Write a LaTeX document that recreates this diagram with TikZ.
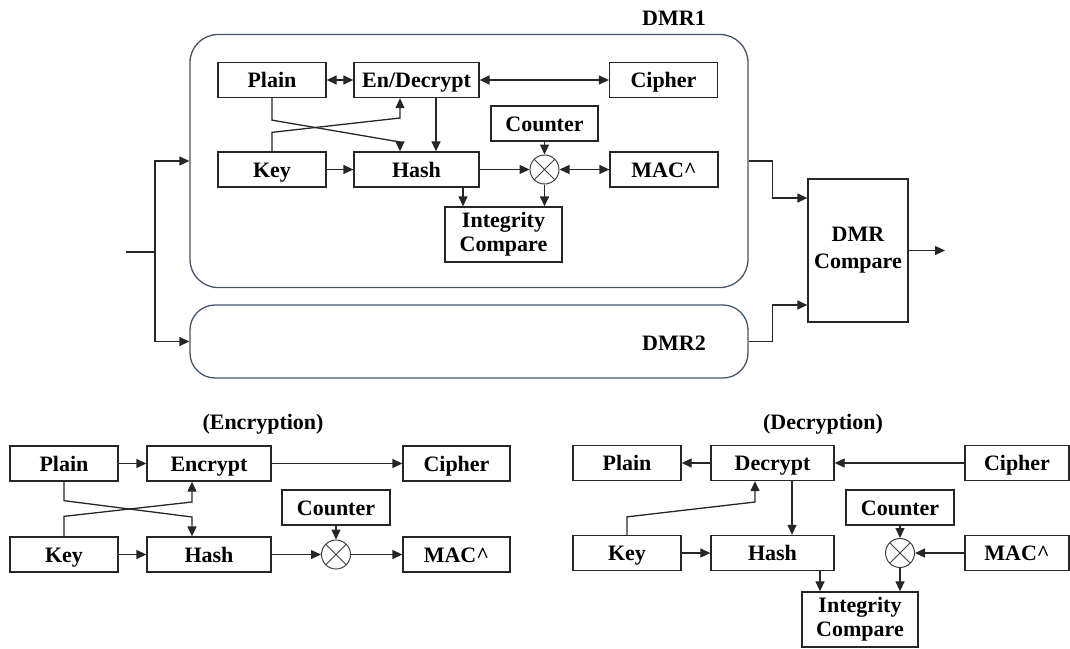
\documentclass[tikz,border=0pt]{standalone}
\usepackage{fontspec}
\setmainfont{Liberation Serif}[BoldFont={Liberation Serif Bold}]
\newfontfamily\boxfont{Liberation Serif Bold}
\usetikzlibrary{arrows.meta,calc}
\definecolor{dmrblue}{RGB}{68,84,106}
\begin{document}
\begin{tikzpicture}[x=1pt,y=-1pt,
  lbl/.style={font=\boxfont\fontsize{22}{24}\selectfont, align=center, inner sep=0pt},
  one/.style={text height=15pt, text depth=0pt},
  blk/.style={lbl, draw=black!85, line width=1.3pt, minimum height=35pt},
  sblk/.style={blk, one, minimum width=108pt},
  wblk/.style={blk, one, minimum width=124pt},
  mix/.style={circle, draw=black!75, line width=1pt, minimum size=29pt, inner sep=0pt,
    path picture={\draw[black!75, line width=1pt]
      ($(path picture bounding box.center)+(45:14.5)$) -- ($(path picture bounding box.center)+(-135:14.5)$)
      ($(path picture bounding box.center)+(135:14.5)$) -- ($(path picture bounding box.center)+(-45:14.5)$);}},
  dmr/.style={draw=dmrblue, line width=1.3pt, inner sep=0pt},
  con/.style={line width=1.3pt, draw=black!85},
  tip/.tip={Triangle[length=10pt,width=9pt]},
  arr/.style={con, -tip},
  darr/.style={con, tip-tip}
]
\useasboundingbox (0,0) rectangle (1070,648);

% ---------- DMR structure ----------
\node[dmr, rounded corners=28pt, minimum width=558pt, minimum height=253pt] (d1) at (469,161) {};
\node[dmr, rounded corners=25pt, minimum width=558pt, minimum height=73pt] (d2) at (469,341.5) {};
\node[lbl, one] (d1l) at (674,18) {DMR1};
\node[lbl, one] (d2l) at (674,343) {DMR2};

\coordinate (in) at (126,252);
\coordinate (sp) at (155,252);
\draw[con] (in) -- (sp);
\draw[arr] (sp) |- (d1.west);
\draw[arr] (sp) |- (d2.west);

\node[blk, minimum width=100pt, minimum height=143pt, font=\boxfont\fontsize{22}{27}\selectfont] (cmp) at (858,250.5) {DMR\\Compare};
\draw[arr] (d1.east) -- ++(24,0) |- ([yshift=52.5pt]cmp.west);
\draw[arr] (d2.east) -- ++(24,0) |- ([yshift=-54.5pt]cmp.west);
\coordinate (out) at (945,250.5);
\draw[arr] (cmp.east) -- (out);

% ---------- DMR1 internals ----------
\node[sblk] (p1) at (272,80) {Plain};
\node[wblk, minimum width=125pt] (e1) at (416.5,80) {En/Decrypt};
\node[sblk] (c1) at (663.5,80) {Cipher};
\node[sblk] (k1) at (272,169.5) {Key};
\node[wblk, minimum width=125pt] (h1) at (416.5,169.5) {Hash};
\node[sblk, minimum width=107pt] (n1) at (544.5,123.5) {Counter};
\node[mix] (x1) at (544.5,169.5) {};
\node[sblk] (m1) at (664,169.5) {MAC\^{}};
\node[blk, minimum width=117pt, minimum height=55pt] (i1) at (503.5,234.5) {Integrity\\Compare};

\draw[darr] (p1.east) -- (e1.west);
\draw[darr] (e1.east) -- (c1.west);
\draw[arr] (p1.south) -- ++(0,22) -- (400,142) -- ([xshift=-16.5pt]h1.north);
\draw[arr] (k1.north) -- ++(0,-19) -- (400,118) -- ([xshift=-16.5pt]e1.south);
\draw[arr] ([xshift=19.5pt]e1.south) -- ([xshift=19.5pt]h1.north);
\draw[arr] (k1.east) -- (h1.west);
\draw[arr] (h1.east) -- (x1.west);
\draw[arr] (n1.south) -- (x1.north);
\draw[darr] (x1.east) -- (m1.west);
\draw[arr] ([xshift=46.5pt]h1.south) -- ([xshift=-40.5pt]i1.north);
\draw[arr] (x1.south) -- ([xshift=41pt]i1.north);

% ---------- Encryption ----------
\node[lbl, one] (enct) at (263,422) {(Encryption)};
\node[sblk] (p2) at (64,463.5) {Plain};
\node[wblk] (e2) at (209,463.5) {Encrypt};
\node[sblk, minimum width=107pt] (c2) at (456.5,463.5) {Cipher};
\node[sblk] (n2) at (336,507.5) {Counter};
\node[sblk] (k2) at (64,554.5) {Key};
\node[wblk] (h2) at (209,554.5) {Hash};
\node[mix] (x2) at (336,554.5) {};
\node[sblk, minimum width=107pt] (m2) at (456.5,554.5) {MAC\^{}};

\draw[arr] (p2.east) -- (e2.west);
\draw[arr] (e2.east) -- (c2.west);
\draw[arr] (p2.south) -- ++(0,19) -- (192,517) -- ([xshift=-17pt]h2.north);
\draw[arr] (k2.north) -- ++(0,-20) -- (192,502) -- ([xshift=-17pt]e2.south);
\draw[arr] (k2.east) -- (h2.west);
\draw[arr] (h2.east) -- (x2.west);
\draw[arr] (n2.south) -- (x2.north);
\draw[arr] (x2.east) -- (m2.west);

% ---------- Decryption ----------
\node[lbl, one] (dect) at (823,422) {(Decryption)};
\node[sblk] (p3) at (627,463) {Plain};
\node[wblk, minimum width=123pt] (d3) at (772.5,463) {Decrypt};
\node[sblk, minimum width=104pt] (c3) at (1017,463) {Cipher};
\node[sblk] (n3) at (900,507.5) {Counter};
\node[sblk] (k3) at (627,553) {Key};
\node[wblk, minimum width=123pt] (h3) at (772.5,553) {Hash};
\node[mix] (x3) at (900,553) {};
\node[sblk, minimum width=104pt] (m3) at (1017,553) {MAC\^{}};
\node[blk, minimum width=116pt, minimum height=55pt] (i3) at (860,619.5) {Integrity\\Compare};

\draw[arr] (d3.west) -- (p3.east);
\draw[arr] (c3.west) -- (d3.east);
\draw[arr] (k3.north) -- ++(0,-18) -- (755,502) -- ([xshift=-17.5pt]d3.south);
\draw[arr] ([xshift=19.5pt]d3.south) -- ([xshift=19.5pt]h3.north);
\draw[arr] (k3.east) -- (h3.west);
\draw[arr] (n3.south) -- (x3.north);
\draw[arr] (m3.west) -- (x3.east);
\draw[arr] ([xshift=47.5pt]h3.south) -- ([xshift=-40pt]i3.north);
\draw[arr] (x3.south) -- ([xshift=40pt]i3.north);
\end{tikzpicture}
\end{document}
